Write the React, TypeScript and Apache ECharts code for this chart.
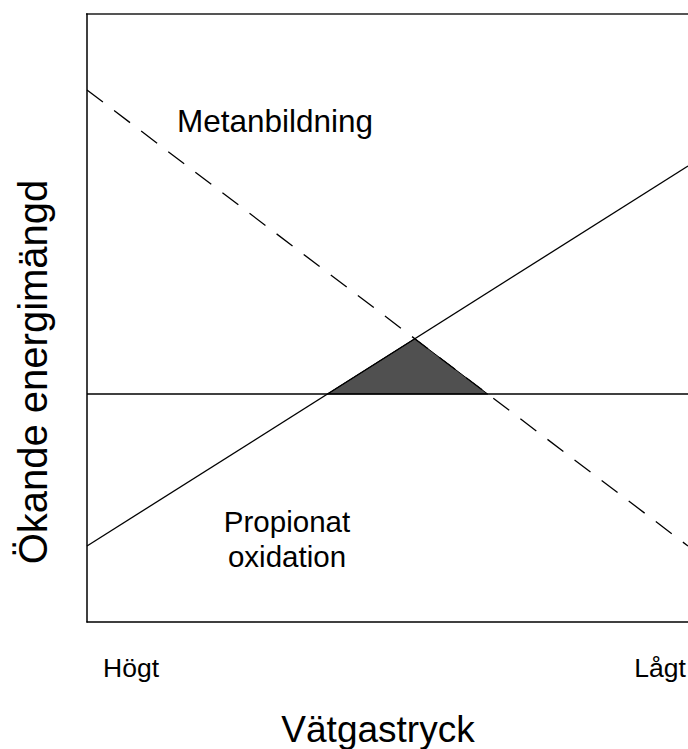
import React, { useEffect, useRef } from "react";
import * as echarts from "echarts";

// x: 0 = Högt vätgastryck, 100 = Lågt; y: energy (arbitrary units 0..100)
const xRange = [0, 100];
const metanLine = [87.5, 12.5]; // y at x=0 and x=100 (dashed)
const propionatLine = [12.5, 75]; // y at x=0 and x=100 (solid)
const zeroLevel = [37.5, 37.5]; // horizontal reference line
const tickLabels = ["Högt", "Lågt"];
const seriesLabels = ["Metanbildning", "Propionat\noxidation"];
const axisTitles = ["Vätgastryck", "Ökande energimängd"];

const FONT = "'Liberation Sans', Arial, sans-serif";

function lineAt(l: number[], x: number) {
  return l[0] + ((l[1] - l[0]) * (x - xRange[0])) / (xRange[1] - xRange[0]);
}
function crossX(a: number[], b: number[]) {
  const sa = (a[1] - a[0]) / (xRange[1] - xRange[0]);
  const sb = (b[1] - b[0]) / (xRange[1] - xRange[0]);
  return xRange[0] + (b[0] - a[0]) / (sa - sb);
}

export default function App() {
  const ref = useRef<HTMLDivElement>(null);
  useEffect(() => {
    if (!ref.current) return;
    const chart = echarts.init(ref.current, null, { renderer: "svg" });
    const x1 = crossX(propionatLine, zeroLevel);
    const x2 = crossX(propionatLine, metanLine);
    const x3 = crossX(metanLine, zeroLevel);
    const tri = [
      [x1, lineAt(zeroLevel, x1)],
      [x2, lineAt(metanLine, x2)],
      [x3, lineAt(zeroLevel, x3)],
    ];
    chart.setOption({
      animation: false,
      backgroundColor: "#ffffff",
      grid: { left: 87, top: 14, width: 601, height: 608 },
      xAxis: {
        type: "value",
        min: xRange[0],
        max: xRange[1],
        axisLine: { show: true, lineStyle: { color: "#000", width: 1.5 } },
        axisTick: { show: false },
        axisLabel: { show: false },
        splitLine: { show: false },
      },
      yAxis: {
        type: "value",
        min: 0,
        max: 100,
        axisLine: { show: true, lineStyle: { color: "#000", width: 1.5 } },
        axisTick: { show: false },
        axisLabel: { show: false },
        splitLine: { show: false },
      },
      series: [
        {
          type: "custom",
          renderItem: (params: any, api: any) => ({
            type: "polygon",
            shape: { points: tri.map((p) => api.coord(p)) },
            style: { fill: "#505050", stroke: "#000", lineWidth: 1 },
          }),
          data: [0],
          silent: true,
          z: 1,
        },
        {
          type: "line",
          data: [
            [xRange[0], zeroLevel[0]],
            [xRange[1], zeroLevel[1]],
          ],
          symbol: "none",
          lineStyle: { color: "#000", width: 1.3 },
          z: 2,
        },
        {
          type: "line",
          data: [
            [xRange[0], propionatLine[0]],
            [xRange[1], propionatLine[1]],
          ],
          symbol: "none",
          lineStyle: { color: "#000", width: 1.3 },
          z: 2,
        },
        {
          type: "line",
          data: [
            [xRange[0], metanLine[0]],
            [xRange[1], metanLine[1]],
          ],
          symbol: "none",
          lineStyle: { color: "#000", width: 1.3, type: [20, 14] },
          z: 2,
        },
      ],
      graphic: [
        {
          type: "line",
          shape: { x1: 86, y1: 14, x2: 688, y2: 14 },
          style: { stroke: "#555", lineWidth: 2 },
        },
        {
          type: "text",
          left: 177,
          top: 105,
          style: { text: seriesLabels[0], font: `31.5px ${FONT}`, fill: "#000" },
        },
        {
          type: "text",
          x: 287,
          y: 539,
          style: {
            text: seriesLabels[1],
            font: `29.5px ${FONT}`,
            fill: "#000",
            align: "center",
            verticalAlign: "middle",
            lineHeight: 35,
          },
        },
        {
          type: "text",
          x: 131,
          y: 668,
          style: { text: tickLabels[0], font: `26.5px ${FONT}`, fill: "#000", align: "center", verticalAlign: "middle" },
        },
        {
          type: "text",
          x: 660,
          y: 668,
          style: { text: tickLabels[1], font: `26.5px ${FONT}`, fill: "#000", align: "center", verticalAlign: "middle" },
        },
        {
          type: "text",
          x: 378,
          y: 729,
          style: { text: axisTitles[0], font: `37px ${FONT}`, fill: "#000", align: "center", verticalAlign: "middle" },
        },
        {
          type: "text",
          x: 33,
          y: 372,
          rotation: Math.PI / 2,
          style: { text: axisTitles[1], font: `40px ${FONT}`, fill: "#000", align: "center", verticalAlign: "middle" },
        },
      ],
    });
    return () => chart.dispose();
  }, []);
  return (
    <div
      ref={ref}
      style={{ position: "fixed", left: 0, top: 0, width: 688, height: 749, background: "#fff" }}
    />
  );
}
